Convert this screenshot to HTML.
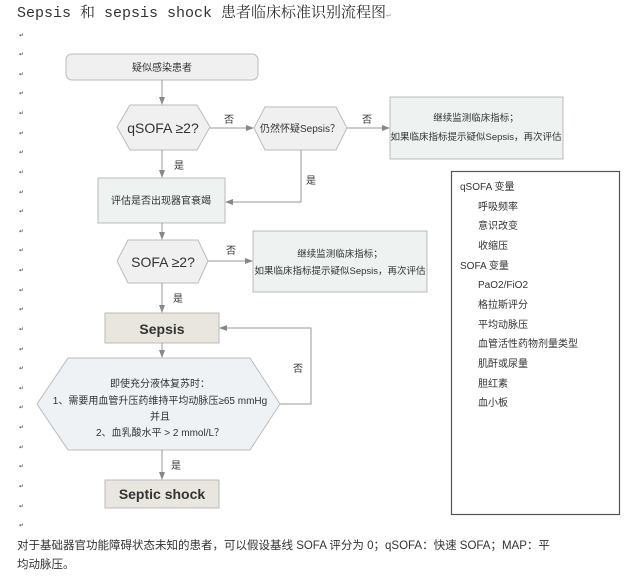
<!DOCTYPE html>
<html><head><meta charset="utf-8"><style>
body{margin:0;background:#fff;width:640px;height:584px;overflow:hidden}
svg{display:block}
text{font-family:"Liberation Sans","Noto Sans CJK SC",sans-serif;fill:#333}
</style></head><body>
<svg width="640" height="584" viewBox="0 0 640 584" xmlns="http://www.w3.org/2000/svg">
<defs><marker id="a" markerWidth="8" markerHeight="8" refX="7" refY="4" orient="auto" markerUnits="userSpaceOnUse"><path d="M0,1 L8,4 L0,7 z" fill="#888"/></marker></defs>
<text x="17" y="17" font-size="15" style="font-family:'Liberation Mono','Noto Serif CJK SC',monospace" fill="#222">Sepsis 和 sepsis shock 患者临床标准识别流程图<tspan font-size="8" fill="#999">↵</tspan></text>
<g font-size="6">
<text x="19" y="37" fill="#bbb">↵</text><text x="19" y="56" fill="#bbb">↵</text><text x="19" y="76" fill="#bbb">↵</text><text x="19" y="95" fill="#bbb">↵</text><text x="19" y="115" fill="#bbb">↵</text><text x="19" y="135" fill="#bbb">↵</text><text x="19" y="154" fill="#bbb">↵</text><text x="19" y="174" fill="#bbb">↵</text><text x="19" y="194" fill="#bbb">↵</text><text x="19" y="213" fill="#bbb">↵</text><text x="19" y="233" fill="#bbb">↵</text><text x="19" y="252" fill="#bbb">↵</text><text x="19" y="272" fill="#bbb">↵</text><text x="19" y="292" fill="#bbb">↵</text><text x="19" y="311" fill="#bbb">↵</text><text x="19" y="331" fill="#bbb">↵</text><text x="19" y="351" fill="#bbb">↵</text><text x="19" y="370" fill="#bbb">↵</text><text x="19" y="390" fill="#bbb">↵</text><text x="19" y="409" fill="#bbb">↵</text><text x="19" y="429" fill="#bbb">↵</text><text x="19" y="449" fill="#bbb">↵</text><text x="19" y="468" fill="#bbb">↵</text><text x="19" y="488" fill="#bbb">↵</text><text x="19" y="508" fill="#bbb">↵</text><text x="19" y="527" fill="#bbb">↵</text>
</g>
<g stroke="#bbb" stroke-width="1">
<rect x="66" y="54" width="192" height="26" rx="6" fill="#f0f0f0"/>
<polygon points="117,127 130,105 197,105 210,127 197,150 130,150" fill="#f0f0f0"/>
<polygon points="254,128 265,107 336,107 347,128 336,150 265,150" fill="#f0f0f0"/>
<rect x="390" y="97" width="173" height="62" fill="#eef2f1"/>
<rect x="98" y="178" width="127" height="45" fill="#eef2f1"/>
<polygon points="117,261 128,240 198,240 208,261 198,283 128,283" fill="#f0f0f0"/>
<rect x="253" y="231" width="174" height="61" fill="#eef2f1"/>
<rect x="105" y="313" width="114" height="30" fill="#e8e6df"/>
<polygon points="37,404 68,358 250,358 280,404 250,450 68,450" fill="#eef2f5"/>
<rect x="105" y="480" width="114" height="28" fill="#e8e6df"/>
</g>
<g stroke="#999" fill="none" marker-end="url(#a)">
<path d="M162,80 V104"/>
<path d="M210,128 H253"/>
<path d="M347,128 H389"/>
<path d="M162,150 V177"/>
<path d="M301,150 V202 H226"/>
<path d="M162,223 V239"/>
<path d="M208,261 H252"/>
<path d="M162,283 V312"/>
<path d="M162,343 V357"/>
<path d="M280,404 H311 V328 H220"/>
<path d="M162,450 V479"/>
</g>
<g font-size="10" text-anchor="middle">
<text x="162" y="71">疑似感染患者</text>
<text x="163" y="133" font-size="14">qSOFA ≥2?</text>
<text x="300" y="132">仍然怀疑Sepsis？</text>
<text x="476" y="121" font-size="9.5">继续监测临床指标；</text>
<text x="476" y="140" font-size="9.5">如果临床指标提示疑似Sepsis，再次评估</text>
<text x="161" y="204">评估是否出现器官衰竭</text>
<text x="163" y="267" font-size="14">SOFA ≥2?</text>
<text x="340" y="257" font-size="9.5">继续监测临床指标；</text>
<text x="340" y="274" font-size="9.5">如果临床指标提示疑似Sepsis，再次评估</text>
<text x="162" y="334" font-size="14" font-weight="bold">Sepsis</text>
<text x="160" y="387">即使充分液体复苏时：</text>
<text x="160" y="404">1、需要用血管升压药维持平均动脉压≥65 mmHg</text>
<text x="160" y="420">并且</text>
<text x="160" y="436">2、血乳酸水平 &gt; 2 mmol/L？</text>
<text x="162" y="499" font-size="14" font-weight="bold">Septic shock</text>
<text x="229" y="123">否</text><text x="367" y="123">否</text>
<text x="179" y="169">是</text><text x="311" y="184">是</text>
<text x="231" y="254">否</text><text x="178" y="302">是</text>
<text x="298" y="372">否</text><text x="176" y="469">是</text>
</g>
<rect x="451.5" y="171.5" width="168" height="343" fill="#fff" stroke="#555" stroke-width="1.2"/>
<g font-size="10">
<text x="460" y="190">qSOFA 变量</text>
<text x="478" y="210">呼吸频率</text>
<text x="478" y="229">意识改变</text>
<text x="478" y="249">收缩压</text>
<text x="460" y="269">SOFA 变量</text>
<text x="478" y="288">PaO2/FiO2</text>
<text x="478" y="308">格拉斯评分</text>
<text x="478" y="328">平均动脉压</text>
<text x="478" y="347">血管活性药物剂量类型</text>
<text x="478" y="367">肌酐或尿量</text>
<text x="478" y="387">胆红素</text>
<text x="478" y="406">血小板</text>
</g>
<g font-size="11.5">
<text x="17" y="549" fill="#222">对于基础器官功能障碍状态未知的患者，可以假设基线 SOFA 评分为 0；qSOFA：快速 SOFA；MAP：平</text>
<text x="17" y="568" fill="#222">均动脉压。</text>
</g>
</svg>
</body></html>
